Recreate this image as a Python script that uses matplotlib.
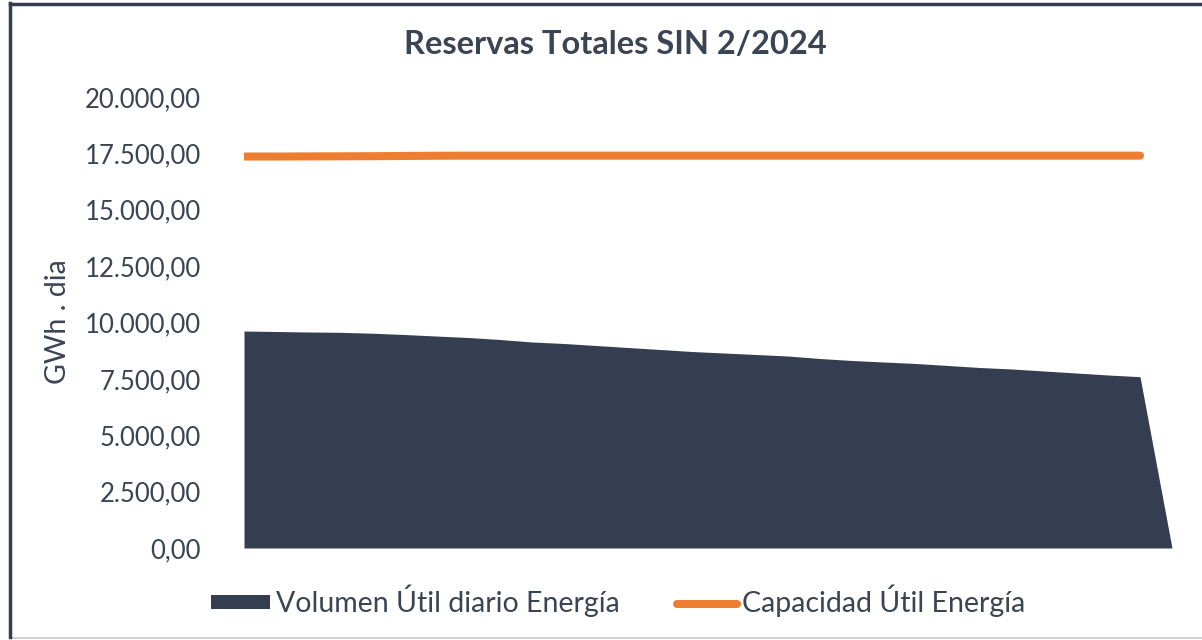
import numpy as np
import matplotlib.pyplot as plt
import matplotlib
from matplotlib.patches import Rectangle
from matplotlib.ticker import FuncFormatter

matplotlib.rc('font', family=['Lato', 'DejaVu Sans'])

# Febrero 2024, diario (GWh . dia); ultimo punto sin dato -> 0
dias = list(range(1, 31))
volumen_util = [9623, 9601, 9579, 9565, 9525, 9468, 9401, 9335, 9246, 9135,
                9069, 8980, 8891, 8803, 8714, 8647, 8581, 8514, 8403, 8315,
                8248, 8182, 8093, 8004, 7938, 7849, 7761, 7672, 7597, 0]
capacidad_util = [17360, 17360, 17365, 17370, 17375, 17385, 17395, 17400, 17400, 17400,
                  17400, 17400, 17400, 17400, 17400, 17400, 17400, 17400, 17400, 17400,
                  17400, 17400, 17400, 17400, 17400, 17400, 17400, 17400, 17400]

dark = '#343e50'
orange = '#ed7d31'
txt = '#3b4452'

fig = plt.figure(figsize=(12.02, 6.4), dpi=100)
ax = fig.add_axes([244/1202, 1-548/640, (1172-244)/1202, (548-97)/640])

x_vol = np.arange(len(volumen_util))
x_cap = np.arange(len(capacidad_util))
ax.fill_between(x_vol, volumen_util, 0, color=dark, linewidth=0,
                label='Volumen Útil diario Energía')
ax.plot(x_cap, capacidad_util, color=orange, linewidth=5.8, solid_capstyle='round',
        label='Capacidad Útil Energía')

ax.set_xlim(0, len(volumen_util) - 1)
ax.set_ylim(0, 20000)
ax.set_yticks(np.arange(0, 20001, 2500))
ax.yaxis.set_major_formatter(FuncFormatter(
    lambda v, p: f'{v:,.2f}'.replace(',', 'X').replace('.', ',').replace('X', '.')))
ax.tick_params(axis='y', length=0, pad=31, labelsize=18.5, labelcolor=txt)
ax.set_xticks([])
for s in ax.spines.values():
    s.set_visible(False)

fig.text(615/1202, 1-45/640, 'Reservas Totales SIN 2/2024', ha='center', va='center',
         fontsize=23.5, fontweight='bold', color=txt)
fig.text(58/1202, 1-322/640, 'GWh . dia', rotation=90, ha='center', va='center',
         fontsize=20.5, color=txt)

fig.legend(loc='center', bbox_to_anchor=(618/1202, 1-601/640), ncol=2, frameon=False,
           fontsize=20.5, labelcolor=txt, handlelength=2.1, handleheight=0.4,
           handletextpad=0.2, columnspacing=2.0)

# marco del grafico
fig.patches.append(Rectangle((10/1202, 2/640), 1300/1202, 634/640, transform=fig.transFigure,
                             fill=False, edgecolor='#d0d0d0', linewidth=1.5))
fig.add_artist(plt.Line2D([10.5/1202, 10.5/1202], [1-3/640, 1-637/640],
                          transform=fig.transFigure, color='#343e50', linewidth=2.5))
fig.add_artist(plt.Line2D([10/1202, 1], [1-3.5/640, 1-3.5/640],
                          transform=fig.transFigure, color='#343e50', linewidth=2.5))

fig.savefig('out.png', dpi=100)
